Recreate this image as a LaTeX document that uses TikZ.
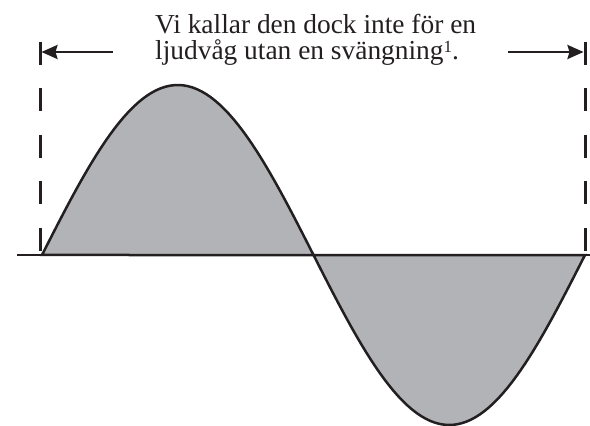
\documentclass[tikz,border=0pt]{standalone}
\usepackage{fontspec}
\setmainfont{Liberation Serif}
\usepackage{xcolor}
\usetikzlibrary{arrows.meta,positioning}

\definecolor{wavegray}{RGB}{178,179,183}
\definecolor{inkblack}{RGB}{35,31,32}

\begin{document}
\begin{tikzpicture}[x=1pt,y=1pt,
    wave/.style={line width=2.5pt, inkblack, fill=wavegray},
    axisline/.style={line width=2.5pt, inkblack},
    guide/.style={line width=3pt, inkblack, dash pattern=on 23pt off 23.5pt},
    span/.style={-{Stealth[length=16pt,width=14pt,inset=2pt]}, line width=2.5pt, inkblack}]
    \useasboundingbox (0,0) rectangle (590,426);

    % Filled sine wave, one full period between the guides
    \draw[wave] plot[domain=42:585, samples=120] (\x, {171+170*sin((\x-42)/543*360)}) -- cycle;

    % Horizontal axis
    \coordinate (axisL) at (17,171);
    \coordinate (axisR) at (590,171);
    \draw[axisline] (axisL) -- (axisR);

    % Dashed guide lines at both ends of the period
    \coordinate (guideLtop) at (40,384);
    \coordinate (guideRtop) at (585,384);
    \draw[guide] (guideLtop) -- (guideLtop |- axisL);
    \draw[guide] (guideRtop) -- (guideRtop |- axisR);

    % Caption
    \node[anchor=north west, inner sep=0pt, align=left, text=inkblack,
          font=\fontsize{27.4}{26.5}\selectfont] (caption) at (155,412)
        {Vi kallar den dock inte för en\\ljudvåg utan en svängning\raisebox{7pt}{\fontsize{17}{17}\selectfont 1}.};

    % Span arrows out to the guides
    \coordinate (spanLtail) at (113,374);
    \coordinate (spanRtail) at (508,374);
    \coordinate (spanLtip) at (41.5,374);
    \coordinate (spanRtip) at (583.5,374);
    \draw[span] (spanLtail) -- (spanLtip);
    \draw[span] (spanRtail) -- (spanRtip);
\end{tikzpicture}
\end{document}
